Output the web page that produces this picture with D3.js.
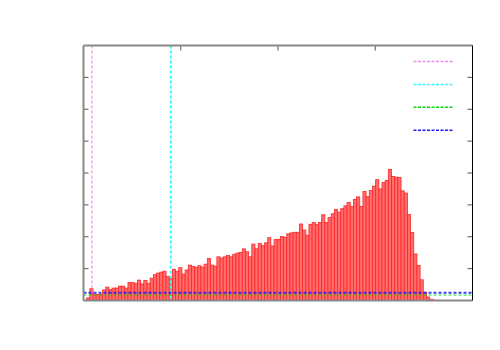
<!DOCTYPE html>
<html>
<head>
<meta charset="utf-8">
<script src="https://cdn.jsdelivr.net/npm/d3@7"></script>
<style>
  body { margin: 0; background: #fff; }
  svg { display: block; }
</style>
</head>
<body>
<div id="chart"></div>
<script>
// histogram heights, one per bin (bin 0 empty)
const binValues = [
  0, 0.08, 0.37, 0.20, 0.19, 0.19, 0.33, 0.42, 0.34, 0.39, 0.39,
  0.45, 0.45, 0.39, 0.56, 0.56, 0.54, 0.64, 0.52, 0.63, 0.54,
  0.70, 0.81, 0.86, 0.89, 0.92, 0.76, 0.69, 0.98, 0.92, 1.03,
  0.83, 0.96, 1.11, 1.07, 1.04, 1.09, 1.05, 1.14, 1.32, 1.11,
  1.08, 1.37, 1.33, 1.37, 1.41, 1.37, 1.45, 1.49, 1.51, 1.62,
  1.53, 1.37, 1.77, 1.62, 1.79, 1.72, 1.81, 1.97, 1.71, 1.91,
  1.92, 2.01, 1.98, 2.09, 2.12, 2.14, 2.14, 2.40, 2.21, 2.05,
  2.39, 2.45, 2.39, 2.45, 2.69, 2.45, 2.60, 2.72, 2.86, 2.77,
  2.88, 2.97, 3.08, 2.95, 3.17, 3.25, 2.95, 3.42, 3.26, 3.45,
  3.59, 3.79, 3.50, 3.70, 3.77, 4.11, 3.89, 3.87, 3.86, 3.44,
  3.37, 2.70, 2.13, 1.46, 1.10, 0.65, 0.26, 0.11, 0.04, 0.01
];
const xMax = 122.5;
const yMax = 8;
const yTicks = [1, 2, 3, 4, 5, 6, 7];
const xTicks = [1, 2, 3].map(k => k * xMax / 4);

// reference lines
const vLines = [
  { x: 2.65, color: '#e27ae2', width: 1 },
  { x: 27.5, color: '#3ff', width: 2 }
];
const hLines = [
  { y: 0.17, color: '#00dd00', width: 1 },
  { y: 0.24, color: '#1a1aff', width: 2 }
];
const legendColors = ['#eb8deb', '#3ff', '#00dd00', '#1a1aff'];

const width = 500, height = 350;
const margin = { top: 45.5, right: 27.5, bottom: 49.5, left: 83.5 };
const w = width - margin.left - margin.right,
      h = height - margin.top - margin.bottom;

const svg = d3.select('#chart').append('svg')
  .attr('width', width)
  .attr('height', height);

const g = svg.append('g')
  .attr('transform', `translate(${margin.left},${margin.top})`);

const x = d3.scaleLinear().domain([0, xMax]).range([0, w]);
const y = d3.scaleLinear().domain([0, yMax]).range([h, 0]);

// bars
g.selectAll('.bar')
  .data(binValues)
  .enter().append('rect')
  .attr('class', 'bar')
  .attr('x', (d, i) => x(i))
  .attr('width', x(1) - x(0))
  .attr('y', d => y(d))
  .attr('height', d => h - y(d))
  .attr('fill', '#ff6e6e')
  .attr('stroke', '#ff2424')
  .attr('stroke-width', 0.8);

// reference lines
g.selectAll('.vline')
  .data(vLines)
  .enter().append('line')
  .attr('x1', d => x(d.x)).attr('x2', d => x(d.x))
  .attr('y1', 0).attr('y2', h)
  .attr('stroke', d => d.color)
  .attr('stroke-width', d => d.width)
  .attr('stroke-dasharray', '3,2');

g.selectAll('.hline')
  .data(hLines)
  .enter().append('line')
  .attr('x1', 0).attr('x2', w)
  .attr('y1', d => y(d.y)).attr('y2', d => y(d.y))
  .attr('stroke', d => d.color)
  .attr('stroke-width', d => d.width)
  .attr('stroke-opacity', 0.85)
  .attr('stroke-dasharray', '3,2');

// ticks
const tickLen = 5;
g.selectAll('.ytl')
  .data(yTicks)
  .enter().append('line')
  .attr('x1', 0).attr('x2', tickLen)
  .attr('y1', d => y(d)).attr('y2', d => y(d))
  .attr('stroke', '#555');
g.selectAll('.ytr')
  .data(yTicks)
  .enter().append('line')
  .attr('x1', w - tickLen).attr('x2', w)
  .attr('y1', d => y(d)).attr('y2', d => y(d))
  .attr('stroke', '#555');
g.selectAll('.xtt')
  .data(xTicks)
  .enter().append('line')
  .attr('x1', d => x(d)).attr('x2', d => x(d))
  .attr('y1', 0).attr('y2', tickLen)
  .attr('stroke', '#555');

// frame
g.append('line').attr('x1', 0).attr('x2', 0).attr('y1', 0).attr('y2', h)
  .attr('stroke', '#888').attr('stroke-width', 2);
g.append('line').attr('x1', 0).attr('x2', w).attr('y1', 0).attr('y2', 0)
  .attr('stroke', '#888').attr('stroke-width', 2);
g.append('line').attr('x1', 0).attr('x2', w).attr('y1', h).attr('y2', h)
  .attr('stroke', '#888').attr('stroke-width', 2);
g.append('line').attr('x1', w).attr('x2', w).attr('y1', 0).attr('y2', h)
  .attr('stroke', '#000').attr('stroke-width', 1);

// legend samples (no labels)
const legend = g.append('g')
  .attr('transform', `translate(${w - 59},${16})`);
legend.selectAll('line')
  .data(legendColors)
  .enter().append('line')
  .attr('x1', 0).attr('x2', 40)
  .attr('y1', (d, i) => i * 22.9).attr('y2', (d, i) => i * 22.9)
  .attr('stroke', d => d)
  .attr('stroke-width', 1.5)
  .attr('stroke-dasharray', '3,1.5');
</script>
</body>
</html>
